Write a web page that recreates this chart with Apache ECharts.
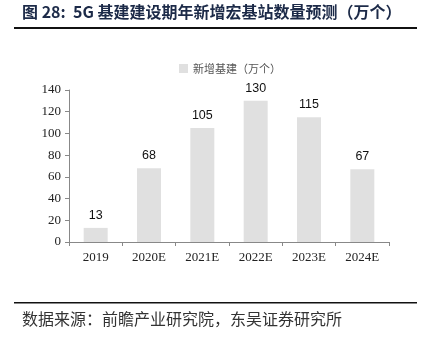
<!DOCTYPE html>
<html><head><meta charset="utf-8">
<script src="https://cdn.jsdelivr.net/npm/echarts@6/dist/echarts.min.js"></script>
<style>html,body{margin:0;padding:0;background:#fff}#c{width:422px;height:349px}</style>
</head><body><div id="c"></div>
<script>
const categories = ['2019','2020E','2021E','2022E','2023E','2024E'];
const values = [13, 68, 105, 130, 115, 67];
const seriesName = '新增基建（万个）';
const titleText = '图 28:  5G 基建建设期年新增宏基站数量预测（万个）';
const sourceText = '数据来源：前瞻产业研究院，东吴证券研究所';

const chart = echarts.init(document.getElementById('c'), null, {renderer:'canvas'});
chart.setOption({
  animation: false,
  backgroundColor: '#fff',
  graphic: [
    {type:'text', left: 22, top: 4, style:{text: titleText, font:'bold 16px "Noto Sans CJK SC"', fill:'#1c2a48'}},
    {type:'rect', shape:{x:14, y:27, width:403, height:2}, style:{fill:'#111'}},
    {type:'rect', shape:{x:14, y:302, width:403, height:1.5}, style:{fill:'#111'}},
    {type:'text', left: 22, top: 311, style:{text: sourceText, font:'16px "Noto Sans CJK SC"', fill:'#333'}}
  ],
  legend: {
    data:[seriesName], left: 174, top: 58, itemWidth: 9, itemHeight: 9, itemGap: 4,
    icon: 'rect',
    textStyle:{fontSize: 11, color:'#555', fontFamily:'"Noto Sans CJK SC"'}
  },
  grid: {left: 69, right: 33, top: 90, bottom: 107, containLabel: false},
  xAxis: {
    type:'category', data: categories,
    axisLine:{lineStyle:{color:'#888'}},
    axisTick:{show:true, length:4, lineStyle:{color:'#888'}},
    axisLabel:{color:'#222', fontSize:13, fontFamily:'"Liberation Serif"', margin:9}
  },
  yAxis: {
    type:'value', min:0, max:140, interval:20,
    splitLine:{show:false},
    axisLine:{show:true, lineStyle:{color:'#888'}},
    axisTick:{show:true, length:4, lineStyle:{color:'#888'}},
    axisLabel:{color:'#222', fontSize:13, fontFamily:'"Liberation Serif"', margin:8}
  },
  series: [{
    name: seriesName, type:'bar', data: values, barWidth:'45%',
    itemStyle:{color:'#e0e0e0'},
    label:{show:true, position:'top', distance:6, color:'#111', fontSize:12.5, fontFamily:'"Liberation Sans"'}
  }]
});
</script></body></html>
